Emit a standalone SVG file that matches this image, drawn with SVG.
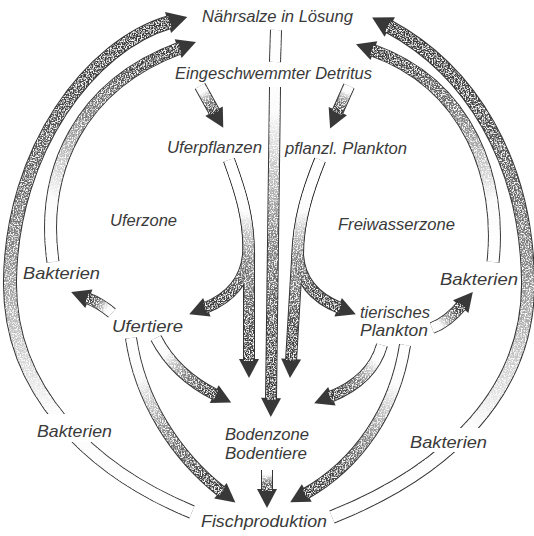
<svg xmlns="http://www.w3.org/2000/svg" xmlns:xlink="http://www.w3.org/1999/xlink" width="534" height="536" viewBox="0 0 534 536">
<style>
  text { font-family: "Liberation Sans", Arial, sans-serif; font-style: italic; font-size: 17px; fill: #3a3a3a; text-anchor: middle; }
  .ol { fill: none; stroke: #353535; stroke-linecap: butt; stroke-linejoin: round; }
  .fl { fill: none; stroke-linecap: butt; stroke-linejoin: round; }
  .w13 { stroke-width: 14; } .f13 { stroke-width: 12; }
  .w12 { stroke-width: 13; } .f12 { stroke-width: 11; }
  .w11 { stroke-width: 12; } .f11 { stroke-width: 10; }
  .hw { marker-end: url(#head); }
  .hb { marker-end: url(#headB); }
</style>
<defs>
  <linearGradient id="base">
    <stop offset="0" stop-color="#ffffff"/>
    <stop offset="0.22" stop-color="#fafafa"/>
    <stop offset="0.55" stop-color="#858585"/>
    <stop offset="0.85" stop-color="#474747"/>
    <stop offset="1" stop-color="#3a3a3a"/>
  </linearGradient>
  <linearGradient id="g1" xlink:href="#base" gradientUnits="userSpaceOnUse" x1="192" y1="512" x2="170" y2="22"/>
  <linearGradient id="g2" xlink:href="#base" gradientUnits="userSpaceOnUse" x1="53" y1="262" x2="180" y2="48"/>
  <linearGradient id="g3" xlink:href="#base" gradientUnits="userSpaceOnUse" x1="332" y1="517" x2="388" y2="26"/>
  <linearGradient id="g4" xlink:href="#base" gradientUnits="userSpaceOnUse" x1="493" y1="262" x2="372" y2="50"/>
  <linearGradient id="g6" xlink:href="#base" gradientUnits="userSpaceOnUse" x1="276" y1="30" x2="271" y2="400"/>
  <linearGradient id="g7" xlink:href="#base" gradientUnits="userSpaceOnUse" x1="200" y1="86" x2="215" y2="113"/>
  <linearGradient id="g8" xlink:href="#base" gradientUnits="userSpaceOnUse" x1="349" y1="86" x2="337" y2="113"/>
  <linearGradient id="g9" xlink:href="#base" gradientUnits="userSpaceOnUse" x1="229" y1="160" x2="249" y2="361"/>
  <linearGradient id="g10" xlink:href="#base" gradientUnits="userSpaceOnUse" x1="229" y1="180" x2="205" y2="308"/>
  <linearGradient id="g11" xlink:href="#base" gradientUnits="userSpaceOnUse" x1="320" y1="160" x2="291" y2="361"/>
  <linearGradient id="g12" xlink:href="#base" gradientUnits="userSpaceOnUse" x1="320" y1="180" x2="340" y2="308"/>
  <linearGradient id="g13" xlink:href="#base" gradientUnits="userSpaceOnUse" x1="112" y1="313" x2="87" y2="298"/>
  <linearGradient id="g14" xlink:href="#base" gradientUnits="userSpaceOnUse" x1="432" y1="328" x2="462" y2="305"/>
  <linearGradient id="g15" xlink:href="#base" gradientUnits="userSpaceOnUse" x1="156" y1="338" x2="216" y2="395"/>
  <linearGradient id="g16" xlink:href="#base" gradientUnits="userSpaceOnUse" x1="131" y1="338" x2="222" y2="492"/>
  <linearGradient id="g17" xlink:href="#base" gradientUnits="userSpaceOnUse" x1="382" y1="345" x2="330" y2="397"/>
  <linearGradient id="g18" xlink:href="#base" gradientUnits="userSpaceOnUse" x1="405" y1="345" x2="305" y2="494"/>
  <linearGradient id="g19" xlink:href="#base" gradientUnits="userSpaceOnUse" x1="267" y1="470" x2="267" y2="491"/>
  <marker id="head" viewBox="-3 -11 21 22" markerWidth="21" markerHeight="22" refX="0" refY="0" orient="auto" markerUnits="userSpaceOnUse">
    <path d="M -2 -10 L 17 0 L -2 10 Z" fill="#383838"/>
  </marker>
  <marker id="headB" viewBox="-3 -12 22 24" markerWidth="22" markerHeight="24" refX="0" refY="0" orient="auto" markerUnits="userSpaceOnUse">
    <path d="M -2 -11 L 18 0 L -2 11 Z" fill="#383838"/>
  </marker>
  <filter id="grain" x="0" y="0" width="534" height="536" filterUnits="userSpaceOnUse">
    <feTurbulence type="fractalNoise" baseFrequency="0.75" numOctaves="2" seed="4" result="n"/>
    <feColorMatrix in="n" type="matrix" values="0 0 0 0 1  0 0 0 0 1  0 0 0 0 1  0 0 0 -4 2.2" result="spots"/>
    <feComposite in="spots" in2="SourceAlpha" operator="in" result="s2"/>
    <feMerge><feMergeNode in="SourceGraphic"/><feMergeNode in="s2"/></feMerge>
  </filter>
</defs>
<rect width="534" height="536" fill="#ffffff"/>
<g id="connectors">
  <g id="outlines">
    <path class="ol w13 hb" d="M 192 512 C 90 470, 8 390, 10 280 C 12 150, 90 45, 170 22"/>
    <path class="ol w12 hw" d="M 53 262 C 40 170, 80 85, 180 48"/>
    <path class="ol w13 hb" d="M 332 517 C 450 470, 530 390, 528 280 C 526 160, 470 70, 388 26"/>
    <path class="ol w12 hw" d="M 493 262 C 502 180, 470 85, 372 50"/>
    <path class="ol w11" d="M 276 30 L 275 62"/>
    <path class="ol w11 hw" d="M 275 87 L 271 400"/>
    <path class="ol w11 hw" d="M 200 86 L 215 113"/>
    <path class="ol w11 hw" d="M 349 86 L 337 113"/>
    <path class="ol w11 hw" d="M 229 160 C 240 190, 250 220, 249 260 L 249 361"/>
    <path class="ol w11 hw" d="M 229 160 C 240 190, 250 220, 248 255 C 245 285, 225 300, 205 308"/>
    <path class="ol w11 hw" d="M 320 160 C 308 190, 298 220, 297 260 L 291 361"/>
    <path class="ol w11 hw" d="M 320 160 C 308 190, 298 220, 298 255 C 300 285, 320 300, 340 308"/>
    <path class="ol w11 hw" d="M 112 313 Q 100 303 87 298"/>
    <path class="ol w11 hw" d="M 432 328 Q 448 322 462 305"/>
    <path class="ol w11 hw" d="M 156 338 C 170 365, 192 383, 216 395"/>
    <path class="ol w11 hw" d="M 131 338 C 140 400, 175 455, 222 492"/>
    <path class="ol w11 hw" d="M 382 345 C 375 370, 355 387, 330 397"/>
    <path class="ol w11 hw" d="M 405 345 C 395 410, 358 464, 305 494"/>
    <path class="ol w11 hw" d="M 267 470 L 267 491"/>
  </g>
  <g id="fills" filter="url(#grain)">
    <path class="fl f13" stroke="url(#g1)" d="M 192 512 C 90 470, 8 390, 10 280 C 12 150, 90 45, 170 22"/>
    <path class="fl f12" stroke="url(#g2)" d="M 53 262 C 40 170, 80 85, 180 48"/>
    <path class="fl f13" stroke="url(#g3)" d="M 332 517 C 450 470, 530 390, 528 280 C 526 160, 470 70, 388 26"/>
    <path class="fl f12" stroke="url(#g4)" d="M 493 262 C 502 180, 470 85, 372 50"/>
    <path class="fl f11" stroke="url(#g6)" d="M 276 30 L 275 62"/>
    <path class="fl f11" stroke="url(#g6)" d="M 275 87 L 271 400"/>
    <path class="fl f11" stroke="url(#g7)" d="M 200 86 L 215 113"/>
    <path class="fl f11" stroke="url(#g8)" d="M 349 86 L 337 113"/>
    <path class="fl f11" stroke="url(#g9)" d="M 229 160 C 240 190, 250 220, 249 260 L 249 361"/>
    <path class="fl f11" stroke="url(#g10)" d="M 229 160 C 240 190, 250 220, 248 255 C 245 285, 225 300, 205 308"/>
    <path class="fl f11" stroke="url(#g11)" d="M 320 160 C 308 190, 298 220, 297 260 L 291 361"/>
    <path class="fl f11" stroke="url(#g12)" d="M 320 160 C 308 190, 298 220, 298 255 C 300 285, 320 300, 340 308"/>
    <path class="fl f11" stroke="url(#g13)" d="M 112 313 Q 100 303 87 298"/>
    <path class="fl f11" stroke="url(#g14)" d="M 432 328 Q 448 322 462 305"/>
    <path class="fl f11" stroke="url(#g15)" d="M 156 338 C 170 365, 192 383, 216 395"/>
    <path class="fl f11" stroke="url(#g16)" d="M 131 338 C 140 400, 175 455, 222 492"/>
    <path class="fl f11" stroke="url(#g17)" d="M 382 345 C 375 370, 355 387, 330 397"/>
    <path class="fl f11" stroke="url(#g18)" d="M 405 345 C 395 410, 358 464, 305 494"/>
    <path class="fl f11" stroke="url(#g19)" d="M 267 470 L 267 491"/>
  </g>
  <rect x="34" y="414" width="82" height="28" fill="#ffffff"/>
  <rect x="405" y="428" width="87" height="24" fill="#ffffff"/>
</g>
<g id="naehrsalze"><text x="277.5" y="22" textLength="151" lengthAdjust="spacingAndGlyphs">Nährsalze in Lösung</text></g>
<g id="detritus"><text x="273.5" y="79" textLength="197" lengthAdjust="spacingAndGlyphs">Eingeschwemmter Detritus</text></g>
<g id="uferpflanzen"><text x="214.5" y="153" textLength="95" lengthAdjust="spacingAndGlyphs">Uferpflanzen</text></g>
<g id="pflanzl-plankton"><text x="346" y="154" textLength="122" lengthAdjust="spacingAndGlyphs">pflanzl. Plankton</text></g>
<g id="uferzone"><text x="143.5" y="226" textLength="67" lengthAdjust="spacingAndGlyphs">Uferzone</text></g>
<g id="freiwasserzone"><text x="396.5" y="230" textLength="117" lengthAdjust="spacingAndGlyphs">Freiwasserzone</text></g>
<g id="bakterien-links"><text x="61.5" y="279" textLength="77" lengthAdjust="spacingAndGlyphs">Bakterien</text></g>
<g id="bakterien-rechts"><text x="479" y="285" textLength="78" lengthAdjust="spacingAndGlyphs">Bakterien</text></g>
<g id="ufertiere"><text x="147.5" y="332" textLength="71" lengthAdjust="spacingAndGlyphs">Ufertiere</text></g>
<g id="tierisches-plankton">
  <text x="395" y="318" textLength="70" lengthAdjust="spacingAndGlyphs">tierisches</text>
  <text x="394" y="336" textLength="68" lengthAdjust="spacingAndGlyphs">Plankton</text>
</g>
<g id="bakterien-unten-links"><text x="74.5" y="437" textLength="75" lengthAdjust="spacingAndGlyphs">Bakterien</text></g>
<g id="bodenzone">
  <text x="267" y="440" textLength="84" lengthAdjust="spacingAndGlyphs">Bodenzone</text>
  <text x="266" y="459" textLength="82" lengthAdjust="spacingAndGlyphs">Bodentiere</text>
</g>
<g id="bakterien-unten-rechts"><text x="448.5" y="448" textLength="77" lengthAdjust="spacingAndGlyphs">Bakterien</text></g>
<g id="fischproduktion"><text x="264" y="527" textLength="126" lengthAdjust="spacingAndGlyphs">Fischproduktion</text></g>
</svg>
